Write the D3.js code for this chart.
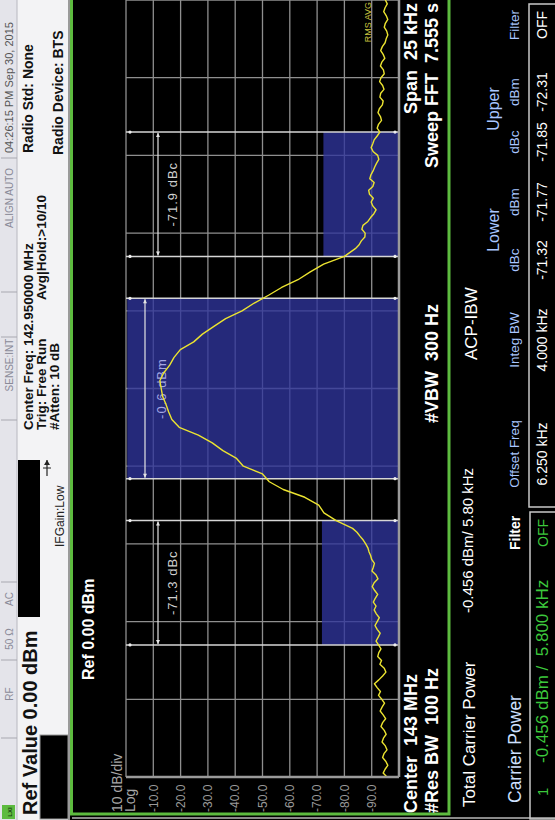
<!DOCTYPE html>
<html>
<head>
<meta charset="utf-8">
<script src="https://cdn.jsdelivr.net/npm/d3@7"></script>
<style>
  body { margin: 0; background: #000; }
  svg { display: block; font-family: "Liberation Sans", Arial, sans-serif; }
</style>
</head>
<body>
<div id="main"></div>
<script>
// trace: frequency offset from 143 MHz (kHz) and level (dBm)
const freqKHz = [
  -12.5, -12.375, -12.25, -12.125, -12, -11.875, -11.75, -11.625, -11.5, -11.375,
  -11.25, -11.125, -11, -10.875, -10.75, -10.625, -10.5, -10.375, -10.25, -10.125,
  -10, -9.875, -9.75, -9.625, -9.5, -9.375, -9.25, -9.125, -9, -8.875,
  -8.75, -8.625, -8.5, -8.375, -8.25, -8.125, -8, -7.875, -7.75, -7.625,
  -7.5, -7.375, -7.25, -7.125, -7, -6.875, -6.75, -6.625, -6.5, -6.375,
  -6.25, -6.125, -6, -5.875, -5.75, -5.625, -5.5, -5.375, -5.25, -5.125,
  -5, -4.875, -4.75, -4.625, -4.5,
  -4.25, -4, -3.75, -3.5, -3.25, -3, -2.75, -2.5, -2.25, -2,
  -1.75, -1.5, -1.25, -1, -0.75, -0.5, -0.25, 0, 0.25, 0.5,
  0.75, 1, 1.25, 1.5, 1.75, 2, 2.25, 2.5, 2.75, 3,
  3.25, 3.5, 3.75, 4, 4.25,
  4.5, 4.625, 4.75, 4.875, 5, 5.125, 5.25, 5.375, 5.5, 5.625,
  5.75, 5.875, 6, 6.125, 6.25, 6.375, 6.5, 6.625, 6.75, 6.875,
  7, 7.125, 7.25, 7.375, 7.5, 7.625, 7.75, 7.875, 8, 8.125,
  8.25, 8.375, 8.5, 8.625, 8.75, 8.875, 9, 9.125, 9.25, 9.375,
  9.5, 9.625, 9.75, 9.875, 10, 10.125, 10.25, 10.375, 10.5, 10.625,
  10.75, 10.875, 11, 11.125, 11.25, 11.375, 11.5, 11.625, 11.75, 11.875,
  12, 12.125, 12.25, 12.375, 12.5
];
const levelDBm = [
  -95.6, -94.2, -94.9, -95.9, -95.2, -94.0, -94.5, -95.6, -95.0, -93.8,
  -94.3, -95.3, -94.6, -93.4, -94.0, -95.1, -94.2, -93.1, -93.8, -94.7,
  -93.7, -92.5, -93.2, -92.0, -91.0, -92.6, -94.0, -95.2, -94.6, -93.0,
  -93.6, -92.2, -92.6, -93.4, -92.5, -91.6, -92.4, -93.1, -92.0, -91.2,
  -92.0, -92.8, -91.7, -90.9, -91.6, -90.6, -91.3, -92.2, -91.1, -90.2,
  -90.9, -92.3, -91.6, -90.1, -90.6, -91.0, -90.0, -89.6, -89.0, -88.6,
  -87.8, -86.9, -85.7, -84.6, -83.0,
  -77.0, -72.5, -70.6, -65.5, -57.6, -52.5, -50.0, -43.0, -40.5, -35.5,
  -31.6, -26.5, -19.5, -16.8, -15.6, -14.6, -13.4, -12.9, -12.4, -13.8,
  -16.0, -17.6, -19.9, -24.8, -28.0, -32.2, -36.5, -42.5, -47.0, -52.2,
  -57.0, -63.0, -67.5, -72.4, -80.0,
  -84.0, -85.4, -86.2, -87.5, -87.6, -86.4, -86.8, -88.6, -89.6, -90.8,
  -91.6, -90.4, -89.8, -90.6, -89.2, -88.9, -90.4, -90.9, -89.3, -89.7,
  -90.5, -91.1, -91.8, -92.6, -92.2, -90.5, -89.8, -90.4, -90.9, -92.0,
  -93.0, -92.0, -92.5, -93.6, -93.2, -92.3, -92.8, -93.9, -94.2, -93.0,
  -93.3, -94.5, -94.0, -92.9, -93.4, -94.6, -94.3, -93.2, -93.7, -94.8,
  -94.2, -93.3, -93.9, -94.9, -95.3, -95.9, -95.5, -94.6, -95.0, -95.9,
  -95.3, -94.4, -94.9, -95.7, -95.0
];

// axis
const yTicks = [0, -10, -20, -30, -40, -50, -60, -70, -80, -90, -100];
const yTickLabels = ["-10.0", "-20.0", "-30.0", "-40.0", "-50.0", "-60.0", "-70.0", "-80.0", "-90.0"];
const xTicks = [-12.5, -10, -7.5, -5, -2.5, 0, 2.5, 5, 7.5, 10, 12.5];

// channels: center kHz, width kHz, measured level dBm, bracket label
const channelNames = ["lower", "main", "upper"];
const channelCenter = [-6.25, 0, 6.25];
const channelWidth = [4.0, 5.8, 4.0];
const channelLevel = [-71.77, -0.456, -72.31];
const channelLabel = ["-71.3 dBc", "-0.6 dBm", "-71.9 dBc"];

// ACP table
const acpHeaders = ["Offset Freq", "Integ BW", "dBc", "dBm", "dBc", "dBm", "Filter"];
const acpRow = ["6.250 kHz", "4.000 kHz", "-71.32", "-71.77", "-71.85", "-72.31", "OFF"];

const ctx = {
    w: 820,   // the screen is drawn unrotated, then turned a quarter
    h: 555,
    plot_l: 43,
    plot_r: 820,
    plot_t: 126,
    plot_b: 399,
    trace: "#ece430",
    chan: "#30359c",
    green: "#5dbb3f",
};

function createViz() {
    let svg = d3.select("#main").append("svg")
        .attr("width", 555)
        .attr("height", 820);

    let g = svg.append("g")
        .attr("transform", "translate(0,820) rotate(-90)");

    g.append("rect").attr("width", ctx.w).attr("height", ctx.h).attr("fill", "#000");

    drawHeader(g);
    drawPlot(g);
    drawFooter(g);
}

function txt(g, x, y, s, size, color, opts) {
    opts = opts || {};
    return g.append("text")
        .attr("x", x).attr("y", y)
        .attr("font-size", size)
        .attr("fill", color)
        .attr("font-weight", opts.bold ? "bold" : "normal")
        .attr("text-anchor", opts.anchor || "start")
        .attr("letter-spacing", opts.ls || 0)
        .style("white-space", "pre")
        .text(s);
}

function drawHeader(g) {
    // status bar
    g.append("rect").attr("x", 0).attr("y", 0).attr("width", ctx.w).attr("height", 70).attr("fill", "#f3f3f5");
    g.append("rect").attr("x", 0).attr("y", 0).attr("width", ctx.w).attr("height", 17).attr("fill", "#e4e4ea");
    g.append("line").attr("x1", 0).attr("x2", ctx.w).attr("y1", 17).attr("y2", 17).attr("stroke", "#b8b8c0");

    [82, 160, 238, 400, 483, 528, 662].forEach(x => {
        g.append("line").attr("x1", x).attr("x2", x).attr("y1", 1).attr("y2", 17)
            .attr("stroke", "#a8a8b0");
    });
    const status = [["RF", 126], ["50 Ω", 181], ["AC", 221], ["SENSE:INT", 455], ["ALIGN AUTO", 622]];
    status.forEach(d => txt(g, d[1], 13, d[0], 10, "#8a8a98", { anchor: "middle" }));
    txt(g, 667, 13, "04:26:15 PM Sep 30, 2015", 11, "#555");

    // logo
    g.append("rect").attr("x", 1).attr("y", 2).attr("width", 14).attr("height", 13).attr("fill", ctx.green);
    txt(g, 8, 12, "LXI", 6, "#1a3a10", { anchor: "middle", bold: true });

    txt(g, 5, 37, "Ref Value 0.00 dBm", 20, "#111", { bold: true });

    g.append("rect").attr("x", 203).attr("y", 18).attr("width", 157).attr("height", 22).attr("fill", "#000");
    g.append("rect").attr("x", 1).attr("y", 40).attr("width", 84).attr("height", 28)
        .attr("fill", "#000").attr("stroke", "#999");

    // trigger icon
    g.append("line").attr("x1", 344).attr("x2", 360).attr("y1", 47).attr("y2", 47).attr("stroke", "#222").attr("stroke-width", 1.2);
    g.append("path").attr("d", "M355,44 L360,47 L355,50 Z").attr("fill", "#222");
    g.append("line").attr("x1", 352).attr("x2", 352).attr("y1", 43).attr("y2", 51).attr("stroke", "#222");
    txt(g, 273, 64, "IFGain:Low", 12, "#222");

    txt(g, 390, 33, "Center Freq: 142.950000 MHz", 13.5, "#111", { bold: true });
    txt(g, 390, 46, "Trig: Free Run", 13.5, "#111", { bold: true });
    txt(g, 390, 59, "#Atten: 10 dB", 13.5, "#111", { bold: true });
    txt(g, 520, 46, "Avg|Hold:>10/10", 13.5, "#111", { bold: true });
    txt(g, 667, 33, "Radio Std: None", 14, "#111", { bold: true });
    txt(g, 665, 63, "Radio Device: BTS", 14, "#111", { bold: true });

    // display frame
    g.append("line").attr("x1", 0).attr("x2", ctx.w).attr("y1", 69).attr("y2", 69).attr("stroke", "#9a9a9a").attr("stroke-width", 2);
    g.append("rect").attr("x", 6).attr("y", 71.5).attr("width", 820).attr("height", 377.5)
        .attr("fill", "none").attr("stroke", ctx.green).attr("stroke-width", 3);
    g.append("line").attr("x1", 2).attr("x2", 2).attr("y1", 72).attr("y2", ctx.h).attr("stroke", "#8a8a8a").attr("stroke-width", 2);
}

function drawPlot(g) {
    let x = d3.scaleLinear().domain([-12.5, 12.5]).range([ctx.plot_l, ctx.plot_r]);
    let y = d3.scaleLinear().domain([0, -100]).range([ctx.plot_t, ctx.plot_b]);

    txt(g, 140, 94, "Ref 0.00 dBm", 16, "#fff", { bold: true });
    txt(g, 8, 122, "10 dB/div", 14, "#a8a8a8");
    txt(g, 8, 135, "Log", 14, "#a8a8a8");

    // tick labels
    g.selectAll(".ylab").data(yTickLabels).enter().append("text")
        .attr("class", "ylab")
        .attr("x", 8)
        .attr("y", d => y(+d))
        .attr("dy", "0.35em")
        .attr("font-size", 12)
        .attr("fill", "#9a9a9a")
        .text(d => d);

    // grid
    let grid = g.append("g");
    grid.selectAll("line.h").data(yTicks).enter().append("line")
        .attr("x1", ctx.plot_l).attr("x2", ctx.plot_r)
        .attr("y1", d => y(d)).attr("y2", d => y(d))
        .attr("stroke", "#8f8f8f").attr("stroke-width", 1.3);
    grid.selectAll("line.v").data(xTicks).enter().append("line")
        .attr("x1", d => x(d)).attr("x2", d => x(d))
        .attr("y1", ctx.plot_t).attr("y2", ctx.plot_b)
        .attr("stroke", "#8f8f8f").attr("stroke-width", 1.3);

    // channel blocks
    g.selectAll("rect.chan").data(channelNames).enter().append("rect")
        .attr("x", (d, i) => x(channelCenter[i] - channelWidth[i] / 2))
        .attr("width", (d, i) => x(channelWidth[i]) - x(0))
        .attr("y", (d, i) => y(channelLevel[i]))
        .attr("height", (d, i) => ctx.plot_b - y(channelLevel[i]))
        .attr("fill", ctx.chan)
        .attr("fill-opacity", 0.78);

    // channel edges
    let edges = [];
    channelNames.forEach((d, i) => {
        edges.push(channelCenter[i] - channelWidth[i] / 2);
        edges.push(channelCenter[i] + channelWidth[i] / 2);
    });
    g.selectAll("line.edge").data(edges).enter().append("line")
        .attr("x1", d => x(d)).attr("x2", d => x(d))
        .attr("y1", ctx.plot_t).attr("y2", ctx.plot_b - 1)
        .attr("stroke", "#d6d6d6").attr("stroke-width", 1.5);
    g.selectAll("circle.edge1").data(edges).enter().append("circle")
        .attr("cx", d => x(d)).attr("cy", ctx.plot_t + 4).attr("r", 1.6).attr("fill", "#eee");
    g.selectAll("circle.edge2").data(edges).enter().append("circle")
        .attr("cx", d => x(d)).attr("cy", ctx.plot_b - 4).attr("r", 1.6).attr("fill", "#eee");

    // width brackets
    channelNames.forEach((d, i) => {
        let by = i == 1 ? 145 : 158;
        let x1 = x(channelCenter[i] - channelWidth[i] / 2) + 1,
            x2 = x(channelCenter[i] + channelWidth[i] / 2) - 1;
        g.append("line").attr("x1", x1).attr("x2", x2).attr("y1", by).attr("y2", by)
            .attr("stroke", "#e4e4e4").attr("stroke-width", 1.2);
        g.append("path").attr("d", `M${x1},${by} l4,-2 v4 Z M${x2},${by} l-4,-2 v4 Z`).attr("fill", "#e4e4e4");
        txt(g, x(channelCenter[i]), i == 1 ? 166 : 177, channelLabel[i], 13,
            i == 1 ? "#a3a6e2" : "#d0d0d0", { anchor: "middle", ls: 1 });
    });

    // trace
    let line = d3.line()
        .x((d, i) => x(freqKHz[i]))
        .y(d => y(d));
    g.append("path")
        .datum(levelDBm)
        .attr("d", line)
        .attr("fill", "none")
        .attr("stroke", ctx.trace)
        .attr("stroke-width", 1.4)
        .attr("stroke-linejoin", "round");

    txt(g, 818, 371, "RMS AVG", 9, "#c9c23e", { anchor: "end" });

    // plot frame
    g.append("line").attr("x1", ctx.plot_l).attr("x2", ctx.plot_l).attr("y1", ctx.plot_t).attr("y2", ctx.plot_b)
        .attr("stroke", "#9a9a9a").attr("stroke-width", 2.5);
    g.append("line").attr("x1", ctx.plot_l).attr("x2", ctx.plot_r).attr("y1", ctx.plot_b).attr("y2", ctx.plot_b)
        .attr("stroke", "#9a9a9a").attr("stroke-width", 2.5);

    txt(g, 7, 417, "Center  143 MHz", 18, "#fff", { bold: true });
    txt(g, 7, 438, "#Res BW  100 Hz", 18, "#fff", { bold: true });
    txt(g, 397, 438, "#VBW  300 Hz", 18, "#fff", { bold: true });
    txt(g, 817, 417, "Span  25 kHz", 18, "#fff", { bold: true, anchor: "end" });
    txt(g, 817, 438, "Sweep FFT  7.555 s", 18, "#fff", { bold: true, anchor: "end" });
}

function drawFooter(g) {
    const blue = "#a9c6ff";
    txt(g, 13, 475, "Total Carrier Power", 17, "#fff");
    txt(g, 207, 473, "-0.456 dBm/ 5.80 kHz", 15, "#fff");
    txt(g, 460, 477, "ACP-IBW", 17, "#fff");

    txt(g, 17, 521, "Carrier Power", 17.5, "#cfe0ff");
    txt(g, 270, 520, "Filter", 14, "#fff", { bold: true });

    g.append("rect").attr("x", 1).attr("y", 530).attr("width", 307).attr("height", 30)
        .attr("fill", "none").attr("stroke", "#c8c8c8").attr("stroke-width", 1.5);
    txt(g, 24, 548, "1", 15, "#3cc83c");
    txt(g, 57, 548, "-0.456 dBm /  5.800 kHz", 17, "#3cc83c");
    txt(g, 273, 548, "OFF", 14, "#3cc83c");

    // ACP table
    txt(g, 590, 499, "Lower", 16, blue, { anchor: "middle" });
    txt(g, 711, 499, "Upper", 16, blue, { anchor: "middle" });
    const hx = [366, 480, 560, 618, 678, 728, 795];
    acpHeaders.forEach((h, i) => txt(g, hx[i], 519, h, 13.5, blue, { anchor: "middle" }));

    g.append("rect").attr("x", 313).attr("y", 529).attr("width", 503).attr("height", 31)
        .attr("fill", "none").attr("stroke", "#c8c8c8").attr("stroke-width", 1.5);
    acpRow.forEach((v, i) => txt(g, hx[i], 547, v, 14, "#fff", { anchor: "middle" }));
}

createViz();
</script>
</body>
</html>
